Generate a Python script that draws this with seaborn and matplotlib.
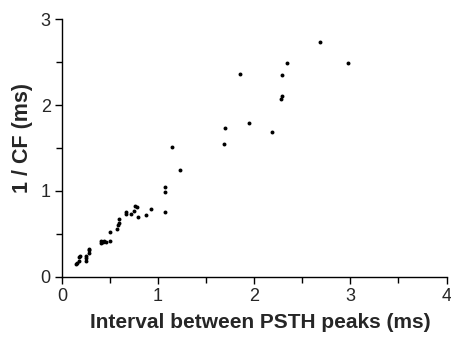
import numpy as np
import pandas as pd
import matplotlib
matplotlib.use('Agg')
import matplotlib.pyplot as plt
import seaborn as sns

# interval between PSTH peaks (ms) vs 1/CF (ms)
interval = [0.146, 0.159, 0.177, 0.177, 0.184, 0.247, 0.250, 0.253, 0.278, 0.278,
            0.284, 0.403, 0.409, 0.424, 0.440, 0.458, 0.500, 0.500, 0.575, 0.586,
            0.593, 0.593, 0.669, 0.669, 0.718, 0.749, 0.760, 0.784, 0.791, 0.871,
            0.929, 1.072, 1.072, 1.072, 1.148, 1.225, 1.682, 1.693, 1.849, 1.949,
            2.188, 2.279, 2.289, 2.286, 2.341, 2.681, 2.973]
inv_cf = [0.148, 0.163, 0.186, 0.233, 0.245, 0.179, 0.214, 0.245, 0.273, 0.308,
          0.326, 0.389, 0.420, 0.404, 0.416, 0.404, 0.420, 0.524, 0.552, 0.599,
          0.622, 0.669, 0.731, 0.751, 0.734, 0.769, 0.827, 0.816, 0.699, 0.719,
          0.793, 0.751, 0.991, 1.049, 1.515, 1.247, 1.547, 1.737, 2.362, 1.788,
          1.686, 2.071, 2.106, 2.354, 2.494, 2.735, 2.487]

df = pd.DataFrame({'interval': interval, 'inv_cf': inv_cf})

sns.set_style('ticks')
plt.rcParams['font.family'] = ['Liberation Sans', 'DejaVu Sans']

fig = plt.figure(figsize=(4.52, 3.37), dpi=100)
ax = fig.add_axes([0.137, 0.179, 0.851, 0.764])

sns.scatterplot(data=df, x='interval', y='inv_cf', color='black', s=8,
                edgecolor='black', linewidth=0, ax=ax)

ax.set_xlim(0, 4)
ax.set_ylim(0, 3)
ax.set_xticks([0, 1, 2, 3, 4])
ax.set_yticks([0, 1, 2, 3])
ax.set_xticks(np.arange(0.5, 4, 1), minor=True)
ax.set_yticks(np.arange(0.5, 3, 1), minor=True)
ax.tick_params(which='major', length=5, width=1, labelsize=13, color='black', pad=3)
ax.tick_params(which='minor', length=4, width=1, color='black')
for s in ['top', 'right']:
    ax.spines[s].set_visible(False)
for s in ['left', 'bottom']:
    ax.spines[s].set_linewidth(1)
    ax.spines[s].set_color('black')

ax.set_xlabel('Interval between PSTH peaks (ms)', fontsize=15, fontweight='bold')
ax.set_ylabel('1 / CF (ms)', fontsize=15.5, fontweight='bold')
ax.xaxis.set_label_coords(0.515, -0.143)
ax.yaxis.set_label_coords(-0.074, 0.54)

fig.savefig('out.png', dpi=100)
